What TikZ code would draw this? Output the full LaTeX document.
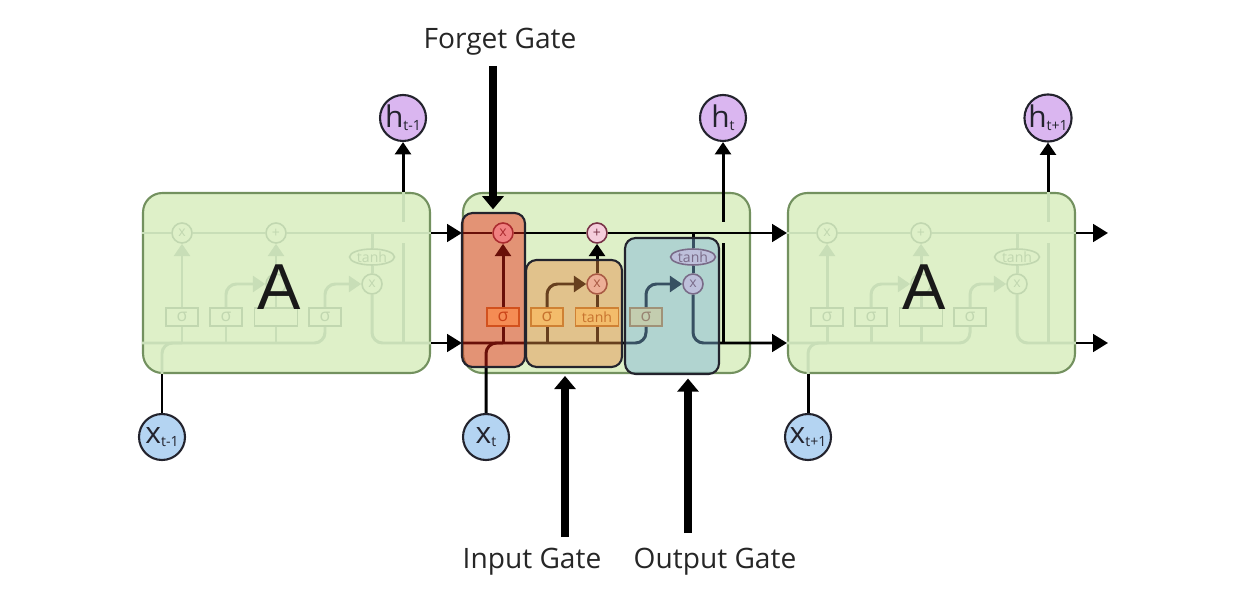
\documentclass[tikz,border=0pt]{standalone}
\usepackage{fontspec}
\setmainfont{Open Sans}
\newfontfamily\afont{Liberation Sans}
\usetikzlibrary{arrows.meta,shapes.geometric}

\definecolor{cellfill}{RGB}{222,240,200}
\definecolor{celldraw}{RGB}{115,145,95}
\definecolor{faintl}{RGB}{200,222,183}
\definecolor{faintd}{RGB}{193,215,176}
\definecolor{pwfill}{RGB}{245,205,220}
\definecolor{pwdraw}{RGB}{120,50,70}
\definecolor{layfill}{RGB}{255,228,140}
\definecolor{laydraw}{RGB}{190,120,40}
\definecolor{laytext}{RGB}{175,95,30}
\definecolor{forgetc}{RGB}{235,35,18}
\definecolor{inputc}{RGB}{229,140,67}
\definecolor{outputc}{RGB}{124,178,218}
\definecolor{xfill}{RGB}{180,212,242}
\definecolor{hfill}{RGB}{218,182,240}
\definecolor{ringc}{RGB}{35,35,45}

\newcommand{\sublbl}[2]{#1\raisebox{-0.2ex}{\fontsize{8}{8}\selectfont #2}}

\tikzset{
  cellbox/.style={rectangle, rounded corners=11pt, minimum width=5.74cm, minimum height=3.6cm,
    fill=cellfill, draw=celldraw, line width=1.2pt},
  gatebox/.style={rectangle, rounded corners=6pt, draw=ringc, line width=1.2pt, fill opacity=0.45},
  pw/.style={circle, draw=pwdraw, fill=pwfill, line width=0.9pt, minimum size=0.4cm, inner sep=0pt,
    font=\fontsize{8}{8}\selectfont, text=pwdraw},
  tanhop/.style={ellipse, draw=pwdraw, fill=pwfill, line width=0.9pt, minimum width=0.9cm,
    minimum height=0.32cm, inner sep=0pt, font=\fontsize{8}{8}\selectfont, text=pwdraw},
  layer/.style={rectangle, draw=laydraw, fill=layfill, line width=0.9pt, minimum width=0.64cm,
    minimum height=0.36cm, inner sep=0pt, font=\fontsize{10}{10}\selectfont, text=laytext},
  pwfaint/.style={pw, draw=faintd, fill=none, text=faintd},
  tanhfaint/.style={tanhop, draw=faintd, fill=none, text=faintd},
  layerfaint/.style={layer, draw=faintd, fill=none, text=faintd},
  flow/.style={line width=1.7pt, draw=black},
  flowtip/.style={flow, -{Triangle[length=7pt,width=9pt]}},
  bigflow/.style={flow, -{Triangle[length=8.5pt,width=10pt]}},
  faintflow/.style={line width=1.7pt, draw=faintl},
  faintflowtip/.style={faintflow, -{Triangle[length=7pt,width=9pt]}},
  xin/.style={circle, draw=ringc, fill=xfill, line width=1.2pt, minimum size=0.92cm, inner sep=0pt,
    font=\fontsize{17}{17}\selectfont, text=ringc},
  hout/.style={xin, fill=hfill},
  bigA/.style={font=\afont\fontsize{37}{37}\selectfont, text=black!90},
  gatelabel/.style={font=\fontsize{16}{19}\selectfont, text=black!85},
  gatearrow/.style={line width=5pt, -{Triangle[length=7.5pt,width=12pt]}},
}

\begin{document}
\begin{tikzpicture}[x=0.02cm, y=-0.02cm]
  \useasboundingbox (0,0) rectangle (1256,614);

  % levels of the two lines through the cells
  \coordinate (bot)  at (0,343);
  \coordinate (gapT) at (0,222);
  \coordinate (gapB) at (0,243);

  % cells
  \node[cellbox] (cellL) at (286.5,283) {};
  \node[cellbox] (cellM) at (606.5,283) {};
  \node[cellbox] (cellR) at (931.5,283) {};

  % inputs and outputs
  \node[hout] (hL) at (403,118)  {\sublbl{h}{t-1}};
  \node[hout] (hM) at (723,118)  {\sublbl{h}{t}};
  \node[hout] (hR) at (1048,118) {\sublbl{h}{t+1}};
  \node[xin]  (xL) at (162,437)  {\sublbl{x}{t-1}};
  \node[xin]  (xM) at (486,437)  {\sublbl{x}{t}};
  \node[xin]  (xR) at (808,437)  {\sublbl{x}{t+1}};

  % faded insides of the outer cells
  \foreach \side/\dx in {L/-321,R/324}{
    \begin{scope}[shift={(\dx,0)}]
      \node[pwfaint]   (fx\side)  at (503,233) {x};
      \node[pwfaint]   (add\side) at (597,233) {+};
      \node[pwfaint]   (ix\side)  at (597,284) {};
      \node[tanhfaint] (oth\side) at (693,257) {tanh};
      \node[pwfaint]   (ox\side)  at (693,284) {x};
      \node[layerfaint] (fs\side) at (503,317) {σ};
      \node[layerfaint] (is\side) at (547,317) {σ};
      \node[layerfaint, minimum width=0.86cm] (it\side) at (597,317) {};
      \node[layerfaint] (os\side) at (646,317) {σ};
    \end{scope}
    \draw[faintflow, rounded corners=6pt] (cell\side.west |- bot) -| (os\side.south);
    \draw[faintflow, rounded corners=6pt] (x\side |- cell\side.south) |- (fs\side |- bot);
    \draw[faintflow] (fs\side |- bot) -- (fs\side.south);
    \draw[faintflowtip] (fs\side.north) -- (fx\side.south);
    \draw[faintflow] (is\side |- bot) -- (is\side.south);
    \draw[faintflowtip, rounded corners=6pt] (is\side.north) |- (ix\side.west);
    \draw[faintflow] (it\side |- bot) -- (it\side.south);
    \draw[faintflow] (it\side.north) -- (ix\side.south);
    \draw[faintflowtip] (ix\side.north) -- (add\side.south);
    \draw[faintflowtip, rounded corners=6pt] (os\side.north) |- (ox\side.west);
    \draw[faintflow] (cell\side.west |- fx\side) -- (fx\side.west);
    \draw[faintflow] (fx\side.east) -- (add\side.west);
    \draw[faintflow] (add\side.east) -- (cell\side.east |- add\side);
    \draw[faintflow] (oth\side |- add\side) -- (oth\side.north);
    \draw[faintflow] (oth\side.south) -- (ox\side.north);
    \draw[faintflow, rounded corners=6pt] (ox\side.south) |- (cell\side.east |- bot);
    \draw[faintflow] (h\side |- bot) -- (h\side |- gapB);
    \draw[faintflow] (h\side |- gapT) -- (h\side |- cell\side.north);
    \draw[flowtip] (h\side |- cell\side.north) -- (h\side.south);
    \draw[flow] (x\side.north) -- (x\side |- cell\side.south);
    \node[bigA] (A\side) at ([shift={(-7,4)}]cell\side.center) {A};
  }

  % the middle cell
  \node[pw]     (fx)  at (503,233) {x};
  \node[pw]     (add) at (597,233) {+};
  \node[pw]     (ix)  at (597,284) {x};
  \node[tanhop] (oth) at (693,257) {tanh};
  \node[pw]     (ox)  at (693,284) {x};
  \node[layer] (fs) at (503,317) {σ};
  \node[layer] (is) at (547,317) {σ};
  \node[layer, minimum width=0.86cm, font=\fontsize{8}{8}\selectfont] (it) at (597,317) {tanh};
  \node[layer] (os) at (646,317) {σ};

  \draw[flow, rounded corners=6pt] (cellM.west |- bot) -| (os.south);
  \draw[flow, rounded corners=6pt] (xM.north) |- (fs |- bot);
  \draw[flow] (fs |- bot) -- (fs.south);
  \draw[flowtip] (fs.north) -- (fx.south);
  \draw[flow] (is |- bot) -- (is.south);
  \draw[flowtip, rounded corners=6pt] (is.north) |- (ix.west);
  \draw[flow] (it |- bot) -- (it.south);
  \draw[flow] (it.north) -- (ix.south);
  \draw[flowtip] (ix.north) -- (add.south);
  \draw[flowtip, rounded corners=6pt] (os.north) |- (ox.west);
  \draw[flow] (cellM.west |- fx) -- (fx.west);
  \draw[flow] (fx.east) -- (add.west);
  \draw[flow] (oth |- add) -- (oth.north);
  \draw[flow] (oth.south) -- (ox.north);
  \draw[flow] (hM |- bot) -- (hM |- gapB);
  \draw[flowtip] (hM |- gapT) -- (hM.south);

  % between the cells
  \coordinate (outT) at (1108,233);
  \coordinate (outB) at (1108,343);
  \draw[bigflow] (cellL.east |- fx) -- (cellM.west |- fx);
  \draw[bigflow] (cellL.east |- bot) -- (cellM.west |- bot);
  \draw[bigflow] (add.east) -- (cellR.west |- add);
  \draw[bigflow, rounded corners=6pt] (ox.south) |- (cellR.west |- bot);
  \draw[bigflow] (cellR.east |- outT) -- (outT);
  \draw[bigflow] (cellR.east |- outB) -- (outB);

  % gates
  \node[gatebox, fill=forgetc, minimum width=1.26cm, minimum height=3.08cm] (fgate) at (493.5,290) {};
  \node[gatebox, fill=inputc, minimum width=1.92cm, minimum height=2.14cm] (igate) at (574,313.5) {};
  \node[gatebox, fill=outputc, minimum width=1.88cm, minimum height=2.72cm] (ogate) at (672,306) {};

  \node[gatelabel] (fglabel) at (500,42)  {Forget Gate};
  \node[gatelabel] (iglabel) at (532,562) {Input Gate};
  \node[gatelabel] (oglabel) at (715,562) {Output Gate};
  \coordinate (fgtail) at (493,66);
  \coordinate (igtail) at (565,537);
  \coordinate (ogtail) at (688,533);
  \draw[gatearrow, shorten >=1.5pt] (fgtail) -- (fgtail |- fgate.north);
  \draw[gatearrow, shorten >=4.5pt] (igtail) -- (igtail |- igate.south);
  \draw[gatearrow, shorten >=2pt] (ogtail) -- (ogtail |- ogate.south);

\end{tikzpicture}
\end{document}
